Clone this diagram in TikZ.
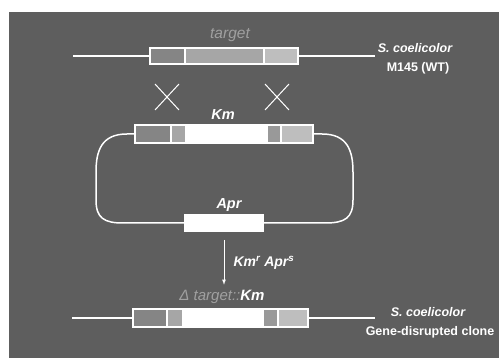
\documentclass[tikz,border=0pt]{standalone}
\usepackage{fontspec}
\setmainfont{Liberation Sans}
\usepackage{xcolor}
\usepackage{tikz}
\usetikzlibrary{arrows,positioning,calc}

\definecolor{bg}{HTML}{5E5E5E}
\definecolor{segdark}{HTML}{858585}
\definecolor{segmid}{HTML}{A6A6A6}
\definecolor{segdkmid}{HTML}{999999}
\definecolor{seglight}{HTML}{BEBEBE}
\definecolor{targetgrey}{HTML}{A0A0A0}

\begin{document}
\begin{tikzpicture}[
  x=1pt, y=-1pt,
  dna/.style={white, line width=1.5pt},
  seg/.style={draw=white, line width=1.2pt, inner sep=0pt, outer sep=0pt,
    minimum height=16pt, anchor=west},
  lbl/.style={text=white, font=\fontsize{14.5}{16}\selectfont\bfseries\itshape},
  strain/.style={text=white, font=\fontsize{12.5}{14}\selectfont\bfseries}
]

% Background
\fill[white] (0,0) rectangle (499,358);
\fill[bg] (9,12) rectangle (499,358);
\useasboundingbox (0,0) rectangle (499,358);

% Wild-type chromosome
\coordinate (wtL) at (73,56);
\coordinate (wtR) at (375,56);
\node[seg, fill=segdark, minimum width=35pt] (wt1) at (150,56) {};
\node[seg, fill=segmid, minimum width=79pt, right=0pt of wt1] (wt2) {};
\node[seg, fill=seglight, minimum width=34pt, right=0pt of wt2] (wt3) {};
\draw[dna] (wtL) -- (wt1.west);
\draw[dna] (wt3.east) -- (wtR);
\node[text=targetgrey, font=\fontsize{15.5}{17}\selectfont\itshape] (target) at (230,35) {target};
\node[strain] (wtname) at (415,48) {\itshape S. coelicolor};
\node[strain] (wtstrain) at (418,68) {M145 (WT)};

% Crossovers
\foreach \cx in {167,277}
  \draw[white, line width=1pt] (\cx-12,84) -- (\cx+12,110) (\cx-12,110) -- (\cx+12,84);

% Disruption plasmid
\node[seg, fill=segdark, minimum width=36pt, minimum height=18pt] (pl1) at (135,134) {};
\node[seg, fill=segmid, minimum width=15pt, minimum height=18pt, right=0pt of pl1] (pl2) {};
\node[seg, fill=white, minimum width=81pt, minimum height=18pt, right=0pt of pl2] (pl3) {};
\node[seg, fill=segdkmid, minimum width=14pt, minimum height=18pt, right=0pt of pl3] (pl4) {};
\node[seg, fill=seglight, minimum width=32pt, minimum height=18pt, right=0pt of pl4] (pl5) {};
\node[lbl] (km) at (223,115) {Km};

\node[seg, fill=white, minimum width=78pt] (apr) at (185,223) {};
\node[lbl] (aprlbl) at (229,205) {Apr};

\draw[dna] (pl1.west) -- (127,134) .. controls (102,134) and (96,150) .. (96,172)
  -- (96,200) .. controls (96,218) and (104,223) .. (123,223) -- (apr.west);
\draw[dna] (pl5.east) -- (322,134) .. controls (347,134) and (353,150) .. (353,172)
  -- (353,200) .. controls (353,218) and (345,223) .. (325,223) -- (apr.east);

% Selection
\node[lbl, font=\fontsize{14}{15}\selectfont\bfseries\itshape, anchor=west] (sel) at (230,263)
  {Km\textsuperscript{r} Apr\textsuperscript{s}};
\node[font=\fontsize{15}{17}\selectfont\itshape] (dlbl) at (222,297)
  {\textcolor{targetgrey}{Δ target::}\textcolor{white}{\bfseries Km}};
\draw[white, line width=0.8pt, ->, >=latex, shorten >=2pt] (apr.south) ++(0,9) -- (apr.south |- dlbl.north);

% Disrupted chromosome
\coordinate (mutL) at (72,318);
\coordinate (mutR) at (375,318);
\node[seg, fill=segdark, minimum width=34pt, minimum height=18pt] (mu1) at (133,318) {};
\node[seg, fill=segmid, minimum width=16pt, minimum height=18pt, right=0pt of mu1] (mu2) {};
\node[seg, fill=white, minimum width=80pt, minimum height=18pt, right=0pt of mu2] (mu3) {};
\node[seg, fill=segdkmid, minimum width=15pt, minimum height=18pt, right=0pt of mu3] (mu4) {};
\node[seg, fill=seglight, minimum width=30pt, minimum height=18pt, right=0pt of mu4] (mu5) {};
\draw[dna] (mutL) -- (mu1.west);
\draw[dna] (mu5.east) -- (mutR);
\node[strain] (mutname) at (428,312) {\itshape S. coelicolor};
\node[strain] (mutclone) at (430,332) {Gene-disrupted clone};

\end{tikzpicture}
\end{document}
